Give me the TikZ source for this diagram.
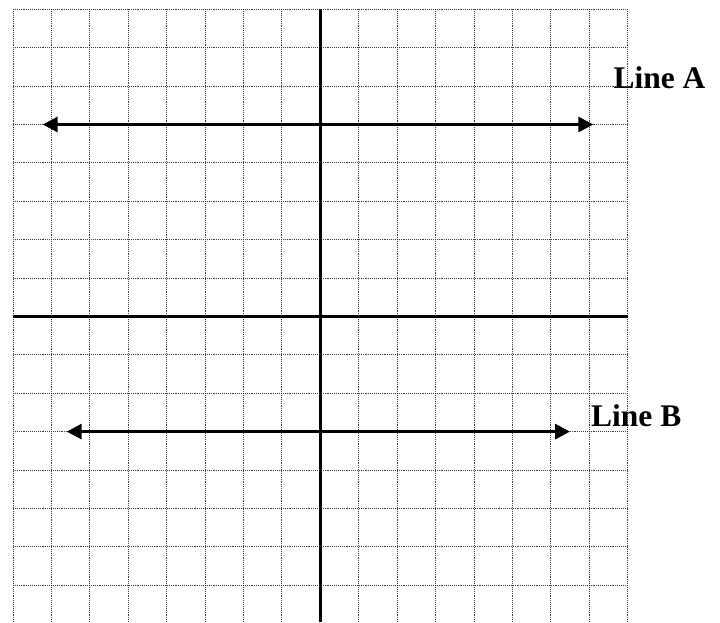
\documentclass[tikz,border=0pt]{standalone}
\usepackage{fontspec}
\setmainfont{Liberation Serif}
\usetikzlibrary{arrows.meta}
\begin{document}
\begin{tikzpicture}[x=1pt,y=-1pt,
  gridline/.style={black!75,line width=0.9pt,densely dotted},
  axisline/.style={black,line width=3pt},
  dirline/.style={black,line width=3pt,{Triangle[length=15pt,width=15pt]}-{Triangle[length=15pt,width=15pt]}},
  lbl/.style={anchor=base west,inner sep=0pt,font=\fontsize{31.5}{36}\selectfont\bfseries}]
\useasboundingbox (0,0) rectangle (720,622);
\begin{scope}
\clip (0,0) rectangle (720,622);
\foreach \k in {0,...,16}{
  \draw[gridline] ({13+\k*38.42},9.3) -- ({13+\k*38.42},622);
  \draw[gridline] (13,{9.3+\k*38.4}) -- (627.7,{9.3+\k*38.4});
}
\end{scope}
\coordinate (yt) at (320.4,9.3);
\coordinate (yb) at (320.4,622);
\coordinate (xl) at (13,316.7);
\coordinate (xr) at (627.7,316.7);
\draw[axisline] (yt) -- (yb);
\draw[axisline] (xl) -- (xr);
\coordinate (a1) at (42.7,124.5);
\coordinate (a2) at (593.3,124.5);
\coordinate (b1) at (66.7,431.6);
\coordinate (b2) at (570,431.6);
\draw[dirline] (a1) -- (a2);
\draw[dirline] (b1) -- (b2);
\node[lbl] (la) at (613.3,88.3) {Line A};
\node[lbl] (lb) at (591,426.7) {Line B};
\end{tikzpicture}
\end{document}
